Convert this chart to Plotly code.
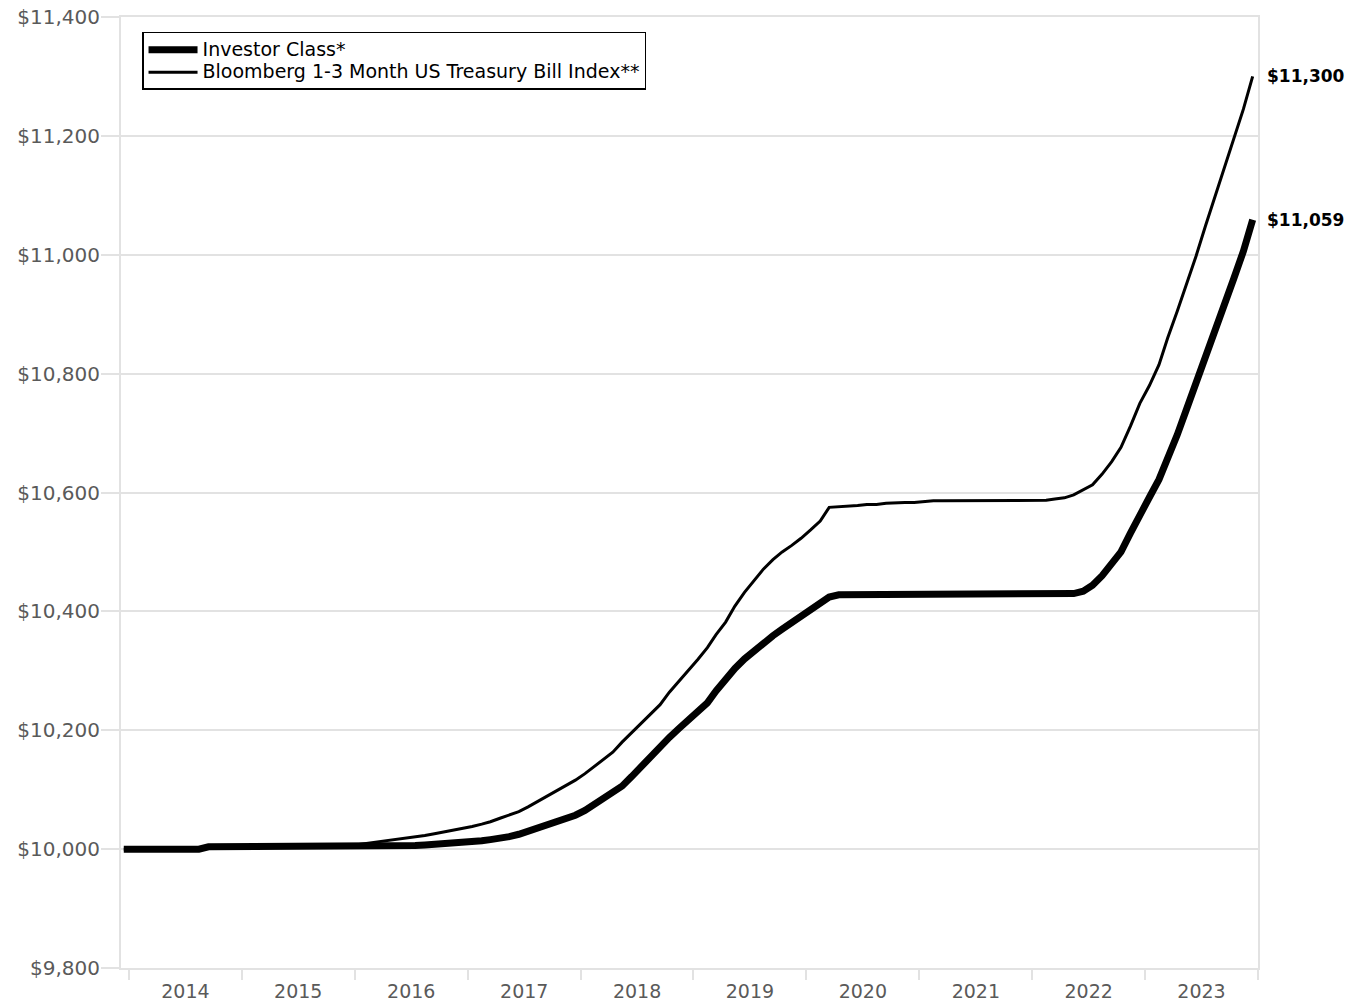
import pandas as pd
import plotly.graph_objects as go

# Month-by-month growth of a hypothetical $10,000 investment
dates = pd.date_range("2013-12-01", periods=121, freq="MS") + pd.Timedelta(days=14)

investor_class = [
    10000, 10000, 10000, 10000, 10000, 10000, 10000, 10000, 10000,
    10004, 10004, 10004, 10004, 10004, 10004, 10004, 10004,
    10004, 10004, 10004, 10004, 10004, 10004, 10004, 10004,
    10005, 10005, 10005, 10006, 10006, 10006, 10006, 10007, 10008, 10008, 10009, 10010,
    10012, 10014, 10016, 10018, 10021, 10025, 10030, 10036, 10041, 10046, 10051, 10057,
    10065, 10075, 10084, 10093, 10106, 10122, 10139, 10155, 10171, 10188, 10203, 10217,
    10230, 10246, 10266, 10286, 10304, 10320, 10334, 10347, 10359, 10370, 10381, 10392,
    10403, 10414, 10424, 10428,
    10428, 10428, 10428, 10428, 10428, 10428, 10428, 10428, 10428, 10428, 10428, 10428,
    10428, 10428, 10428, 10428, 10428, 10428, 10428, 10428, 10428, 10428, 10428, 10428,
    10430, 10434, 10444, 10460, 10480, 10500, 10532, 10564,
    10592, 10622, 10655, 10697, 10740, 10783, 10826, 10870, 10915, 10960, 11006, 11059,
]

tbill_index = [
    10000, 10000, 10000, 10000, 10000, 10000, 10000, 10000, 10000,
    10004, 10004, 10004, 10004, 10004, 10004, 10004, 10004,
    10004, 10004, 10004, 10004, 10004, 10004, 10004, 10005,
    10008, 10010, 10012, 10014, 10016, 10019, 10021, 10023, 10026, 10029, 10031, 10034,
    10038, 10042, 10046, 10052, 10057, 10063, 10071, 10080, 10089, 10097, 10106, 10116,
    10127, 10139, 10150, 10163, 10180, 10196, 10212, 10227, 10243, 10264, 10282, 10300,
    10319, 10339, 10361, 10382, 10409, 10432, 10452, 10471, 10487, 10500, 10511, 10523,
    10537, 10552, 10575, 10576, 10576, 10578, 10580, 10580, 10582, 10583, 10583, 10583,
    10585, 10586, 10586, 10586, 10586, 10586, 10586, 10586, 10586, 10586, 10586, 10586,
    10587, 10587, 10589, 10591, 10596, 10604, 10613, 10631, 10652, 10676, 10712, 10750,
    10780, 10815, 10860, 10905, 10950, 10998, 11048, 11098, 11148, 11195, 11245, 11300,
]

series_names = ["Investor Class*", "Bloomberg 1-3 Month US Treasury Bill Index**"]
y_ticks = list(range(9800, 11401, 200))
y_tick_labels = [f"${v:,}" for v in y_ticks]

FONT = "DejaVu Sans"
GRID = "#e2e2e2"
TICK_TEXT = "#5a5a5a"
LEGEND_TEXT = '<span style="font-size:19px">{}</span>'

fig = go.Figure()
fig.add_trace(go.Scatter(
    x=dates, y=investor_class, name=LEGEND_TEXT.format(series_names[0]), mode="lines",
    line=dict(color="#000000", width=7),
))
fig.add_trace(go.Scatter(
    x=dates, y=tbill_index, name=LEGEND_TEXT.format(series_names[1]), mode="lines",
    line=dict(color="#000000", width=3),
))

# Ending values printed to the right of each line
for series in (tbill_index, investor_class):
    fig.add_annotation(
        x=dates[-1], y=series[-1], text=f"<b>${series[-1]:,.0f}</b>",
        showarrow=False, xanchor="left", yanchor="middle", xshift=12,
        font=dict(family=FONT, size=17, color="#000000"),
    )

fig.update_layout(
    width=1350, height=1001,
    margin=dict(l=121, r=92, t=17, b=33, autoexpand=False),
    paper_bgcolor="white", plot_bgcolor="white",
    font=dict(family=FONT, color=TICK_TEXT),
    showlegend=True,
    legend=dict(
        x=0.0185, y=0.9843, xanchor="left", yanchor="top",
        bgcolor="white", bordercolor="#000000", borderwidth=1.5,
        font=dict(family=FONT, size=15, color="#000000"),
        itemwidth=49, tracegroupgap=0,
    ),
    xaxis=dict(
        type="date", automargin=False,
        range=["2013-12-06", "2024-01-01 06:00"],
        tick0="2014-01-01", dtick="M12", tickformat="%Y",
        ticklabelmode="period",
        showgrid=False, zeroline=False,
        showline=True, linecolor=GRID, linewidth=2, mirror=True,
        ticks="outside", ticklen=10, tickwidth=2, tickcolor=GRID,
        ticklabelstandoff=-5,
        tickfont=dict(family=FONT, size=19, color=TICK_TEXT),
    ),
    yaxis=dict(
        automargin=False,
        range=[9800, 11400], tickvals=y_ticks, ticktext=y_tick_labels,
        showgrid=True, gridcolor=GRID, gridwidth=2, zeroline=False,
        showline=True, linecolor=GRID, linewidth=2, mirror=True,
        ticks="outside", ticklen=18, tickwidth=2, tickcolor=GRID,
        ticklabelstandoff=-3,
        tickfont=dict(family=FONT, size=20, color=TICK_TEXT),
    ),
)

fig.write_html("out.html")
